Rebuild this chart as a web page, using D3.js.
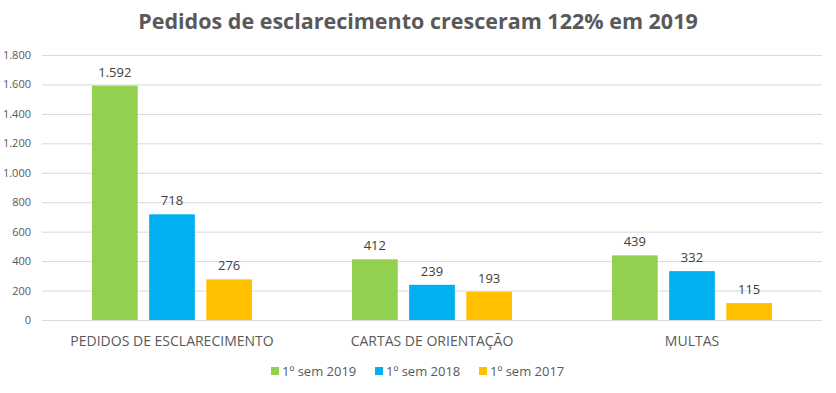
<!DOCTYPE html>
<html>
<head>
<meta charset="utf-8">
<script src="https://cdn.jsdelivr.net/npm/d3@7"></script>
<style>
  body { margin: 0; background: #fff; }
  text { font-family: "Open Sans", "Liberation Sans", sans-serif; fill: #595959; }
</style>
</head>
<body>
<div id="chart"></div>
<script>
var categories = ["PEDIDOS DE ESCLARECIMENTO", "CARTAS DE ORIENTAÇÃO", "MULTAS"];
var seriesNames = ["1º sem 2019", "1º sem 2018", "1º sem 2017"];
var sem2019 = [1592, 412, 439];
var sem2018 = [718, 239, 332];
var sem2017 = [276, 193, 115];
var yTicks = [0, 200, 400, 600, 800, 1000, 1200, 1400, 1600, 1800];
var colors = ["#92D050", "#00B0F0", "#FFC000"];

var width = 836, height = 393;
var svg = d3.select("#chart").append("svg")
    .attr("width", width)
    .attr("height", height);

var fmt = function (v) { return d3.format(",")(v).replace(/,/g, "."); };

var x0 = d3.scaleBand().domain(categories).range([42, 822]);
var x1 = d3.scaleBand().domain(seriesNames).range([x0.bandwidth() / 2 - 80, x0.bandwidth() / 2 + 80]).paddingInner(0.2);
var y = d3.scaleLinear().domain([0, 1800]).range([320, 55]);

// title
svg.append("text")
  .attr("x", width / 2)
  .attr("y", 29)
  .attr("text-anchor", "middle")
  .style("font-size", "21.5px")
  .style("font-weight", "bold")
  .text("Pedidos de esclarecimento cresceram 122% em 2019");

// gridlines
svg.append("g")
  .selectAll("line")
  .data(yTicks)
  .enter().append("line")
  .attr("x1", 42).attr("x2", 822)
  .attr("y1", function (d) { return y(d) + 0.5; })
  .attr("y2", function (d) { return y(d) + 0.5; })
  .style("stroke", "#d9d9d9")
  .style("stroke-width", 1);

// y axis labels
var yAxis = d3.axisLeft(y).tickValues(yTicks).tickSize(0).tickPadding(0).tickFormat(fmt);
var gy = svg.append("g").attr("transform", "translate(31,0)").call(yAxis);
gy.select(".domain").remove();
gy.selectAll("text").style("font-size", "11px").style("fill", "#595959")
  .style("font-family", "\"Open Sans\", sans-serif");

var series = [sem2019, sem2018, sem2017];
var rows = [];
categories.forEach(function (c, i) {
  seriesNames.forEach(function (s, j) {
    rows.push({ cat: c, name: s, value: series[j][i], color: colors[j] });
  });
});

svg.selectAll(".bar")
  .data(rows)
  .enter().append("rect")
  .attr("class", "bar")
  .attr("x", function (d) { return x0(d.cat) + x1(d.name); })
  .attr("width", x1.bandwidth())
  .attr("y", function (d) { return y(d.value); })
  .attr("height", function (d) { return y(0) - y(d.value); })
  .attr("fill", function (d) { return d.color; });

svg.selectAll(".lbl")
  .data(rows)
  .enter().append("text")
  .attr("class", "lbl")
  .attr("x", function (d) { return x0(d.cat) + x1(d.name) + x1.bandwidth() / 2; })
  .attr("y", function (d) { return y(d.value) - 9; })
  .attr("text-anchor", "middle")
  .style("font-size", "13px")
  .style("fill", "#404040")
  .text(function (d) { return fmt(d.value); });

// category labels
var xAxis = d3.axisBottom(x0).tickSize(0).tickPadding(0);
var gx = svg.append("g").attr("transform", "translate(0,346)").call(xAxis);
gx.select(".domain").remove();
gx.selectAll("text").style("font-size", "14px").style("fill", "#595959")
  .style("font-family", "\"Open Sans\", sans-serif").attr("dy", 0);

// legend
var legendX = [271, 375, 479];
var lg = svg.selectAll(".leg")
  .data(seriesNames)
  .enter().append("g")
  .attr("class", "leg")
  .attr("transform", function (d, i) { return "translate(" + legendX[i] + ",367)"; });
lg.append("rect").attr("width", 8).attr("height", 8).attr("fill", function (d, i) { return colors[i]; });
lg.append("text").attr("x", 11).attr("y", 9).style("font-size", "13px").text(function (d) { return d; });
</script>
</body>
</html>
